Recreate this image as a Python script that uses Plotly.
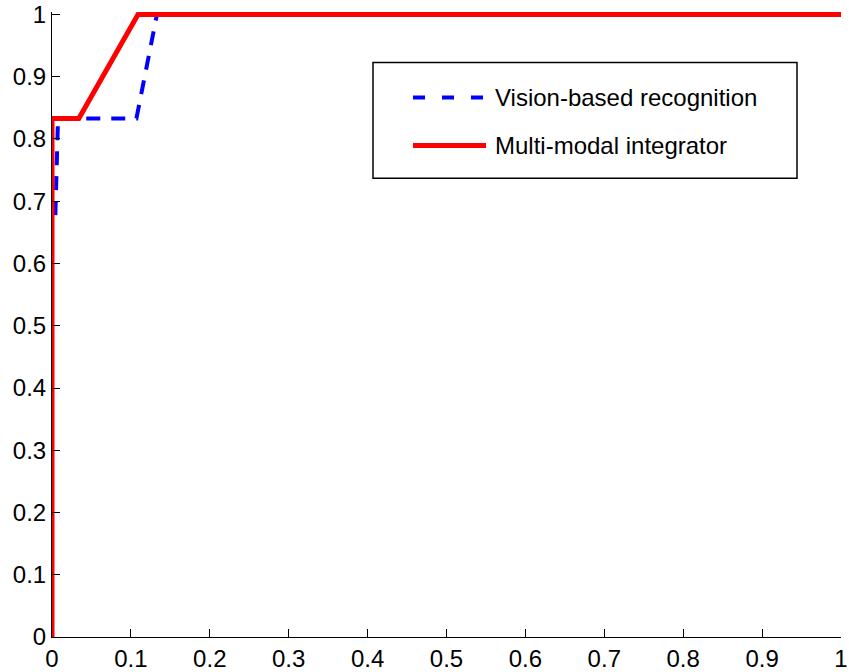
import plotly.graph_objects as go

# Data
series_names = ["Vision-based recognition", "Multi-modal integrator"]
vision_x = [0.0, 0.0, 0.004, 0.0076, 0.107, 0.133, 1.0]
vision_y = [0.0, 0.667, 0.667, 0.833, 0.833, 1.0, 1.0]
multi_x = [0.0, 0.0, 0.034, 0.109, 1.0]
multi_y = [0.0, 0.833, 0.833, 1.0, 1.0]
tick_vals = [0, 0.1, 0.2, 0.3, 0.4, 0.5, 0.6, 0.7, 0.8, 0.9, 1]
tick_text = ["0", "0.1", "0.2", "0.3", "0.4", "0.5", "0.6", "0.7", "0.8", "0.9", "1"]

W, H = 849, 672
L, R = 52, 841
T1, B0 = 14, 637  # pixel of y=1 and y=0
ytop = 1.004
unit = (B0 - T1)
top_px = B0 - ytop * unit

FONT = "Liberation Sans, Arial, sans-serif"
FS = 24

fig = go.Figure()
fig.add_trace(go.Scatter(x=vision_x, y=vision_y, mode="lines", name=series_names[0],
                         line=dict(color="#0000ff", width=4, dash="14px,11px"),
                         showlegend=False))
fig.add_trace(go.Scatter(x=multi_x, y=multi_y, mode="lines", name=series_names[1],
                         line=dict(color="#ff0000", width=5),
                         showlegend=False))

# Legend drawn manually (MATLAB style)
def px_x(p):
    return (p - L) / (R - L)

def px_y(p):
    return (B0 - p) / (B0 - top_px)

shapes = [
    dict(type="rect", xref="paper", yref="paper",
         x0=px_x(373), x1=px_x(797), y0=px_y(178), y1=px_y(62),
         line=dict(color="black", width=1.5), fillcolor="white", layer="above"),
    dict(type="line", xref="paper", yref="paper",
         x0=px_x(413), x1=px_x(486), y0=px_y(97), y1=px_y(97),
         line=dict(color="#0000ff", width=4, dash="12px,17px"), layer="above"),
    dict(type="line", xref="paper", yref="paper",
         x0=px_x(413), x1=px_x(486), y0=px_y(145), y1=px_y(145),
         line=dict(color="#ff0000", width=5), layer="above"),
]
annotations = [
    dict(xref="paper", yref="paper", x=px_x(493), y=px_y(97), text=series_names[0],
         showarrow=False, xanchor="left", yanchor="middle",
         font=dict(family=FONT, size=FS, color="black")),
    dict(xref="paper", yref="paper", x=px_x(493), y=px_y(145), text=series_names[1],
         showarrow=False, xanchor="left", yanchor="middle",
         font=dict(family=FONT, size=FS, color="black")),
]

axis_common = dict(tickvals=tick_vals, ticktext=tick_text,
                   ticks="inside", ticklen=8, tickwidth=1, tickcolor="black",
                   showline=True, linecolor="black", linewidth=1,
                   showgrid=False, zeroline=False, mirror=False, automargin=False,
                   tickfont=dict(family=FONT, size=FS, color="black"))

fig.update_layout(
    template="none",
    width=W, height=H,
    margin=dict(l=L, r=W - R, t=top_px, b=H - B0, pad=0),
    paper_bgcolor="white", plot_bgcolor="white",
    font=dict(family=FONT, size=FS, color="black"),
    shapes=shapes, annotations=annotations, showlegend=False,
    xaxis=dict(range=[0, 1], **axis_common),
    yaxis=dict(range=[0, ytop], **axis_common),
)

fig.write_html("out.html")
